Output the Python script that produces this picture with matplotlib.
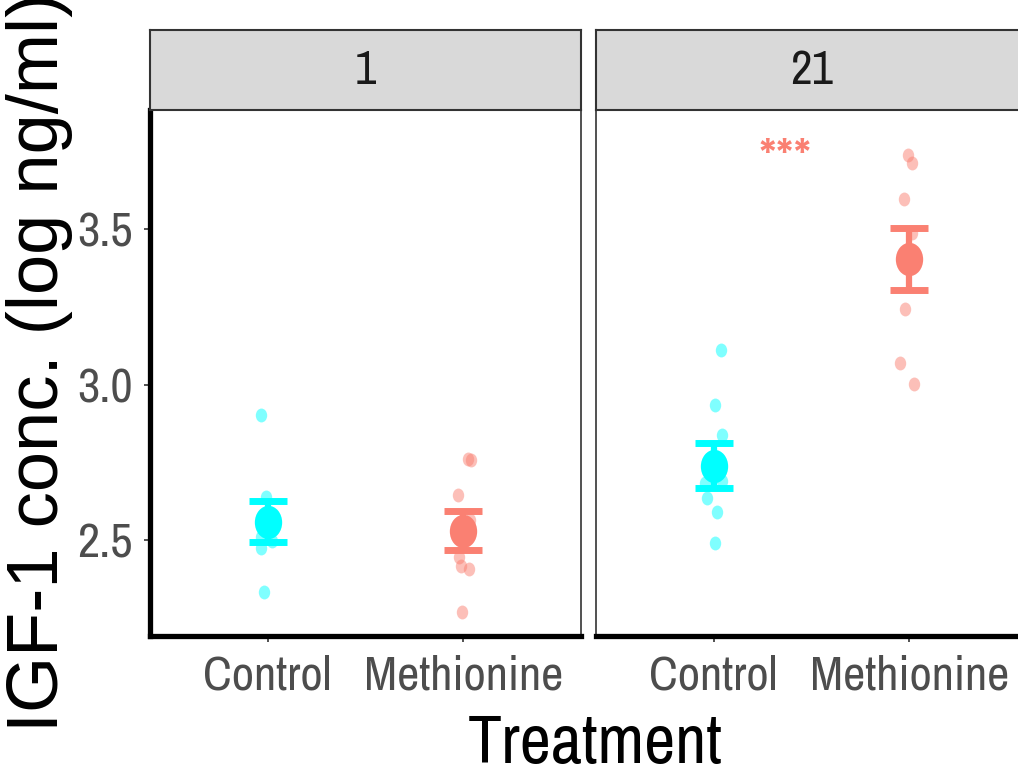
import matplotlib.pyplot as plt
from matplotlib.path import Path
from matplotlib.transforms import Affine2D

plt.rcParams['font.family'] = ['Archivo Narrow', 'Liberation Sans', 'DejaVu Sans']

days = ['1', '21']
treatments = ['Control', 'Methionine']
colors = ['#00FFFF', '#FA8072']

# individual samples (log ng/ml) with their horizontal jitter
d1_control = [2.901, 2.639, 2.511, 2.474, 2.495, 2.331]
d1_control_jit = [-0.033, -0.008, -0.033, -0.033, 0.021, -0.016]
d1_methionine = [2.759, 2.757, 2.645, 2.564, 2.446, 2.416, 2.407, 2.268]
d1_methionine_jit = [0.025, 0.037, -0.030, 0.033, -0.023, -0.013, 0.028, -0.008]
d21_control = [3.110, 2.933, 2.836, 2.682, 2.690, 2.636, 2.589, 2.491]
d21_control_jit = [0.037, 0.008, 0.042, -0.043, 0.042, -0.035, 0.019, 0.008]
d21_methionine = [3.738, 3.711, 3.596, 3.486, 3.243, 3.068, 3.002]
d21_methionine_jit = [-0.009, 0.011, -0.030, 0.011, -0.025, -0.048, 0.023]

# group means and standard errors
mean_d1 = [2.559, 2.530]
se_d1 = [0.067, 0.063]
mean_d21 = [2.739, 3.404]
se_d21 = [0.073, 0.100]

sig_label = '***'
sig_x = 1.365
sig_y = 3.672

samples = [[(d1_control, d1_control_jit), (d1_methionine, d1_methionine_jit)],
           [(d21_control, d21_control_jit), (d21_methionine, d21_methionine_jit)]]
means = [mean_d1, mean_d21]
ses = [se_d1, se_d21]

# slightly tall oval marker
oval = Path.unit_circle().transformed(Affine2D().scale(0.82, 1.0))

W, H = 1018, 772
fig = plt.figure(figsize=(W / 100, H / 100), dpi=100)

panel_left = [150, 596]
panel_w = 431
for i, day in enumerate(days):
    ax = fig.add_axes([panel_left[i] / W, 136 / H, panel_w / W, 526 / H])
    strip = fig.add_axes([panel_left[i] / W, 662 / H, panel_w / W, 80 / H])

    for j in range(2):
        vals, jit = samples[i][j]
        xs = [j + 1 + d for d in jit]
        ax.plot(xs, vals, ls='none', marker=oval, ms=10, color=colors[j],
                alpha=0.5, mec='none')
        ax.errorbar([j + 1], [means[i][j]], yerr=[ses[i][j]], fmt='none',
                    ecolor=colors[j], elinewidth=4.5, capsize=14, capthick=5)
        ax.plot([j + 1], [means[i][j]], ls='none', marker=oval, ms=24,
                color=colors[j], mec='none')

    ax.set_xlim(0.4, 2.6)
    ax.set_ylim(2.191, 3.883)
    ax.set_xticks([1, 2])
    ax.set_xticklabels(treatments)
    ax.set_yticks([2.5, 3.0, 3.5])
    ax.set_yticklabels(['2.5', '3.0', '3.5'])
    for s in ax.spines.values():
        s.set_color('#333333')
        s.set_linewidth(1.2)
    ax.spines['bottom'].set_color('black')
    ax.spines['bottom'].set_linewidth(3.8)
    ax.tick_params(axis='both', length=4.5, width=1.2, color='#333333',
                   labelsize=35, labelcolor='#4D4D4D')
    ax.tick_params(axis='x', pad=9)
    ax.tick_params(axis='y', pad=8)
    if i == 0:
        ax.spines['left'].set_color('black')
        ax.spines['left'].set_linewidth(3.8)
    else:
        ax.tick_params(axis='y', left=False, labelleft=False)
        ax.text(sig_x, sig_y, sig_label, color='#FA8072', fontsize=40,
                ha='center', va='baseline')

    strip.set_facecolor('#D9D9D9')
    strip.set_xticks([])
    strip.set_yticks([])
    for s in strip.spines.values():
        s.set_color('#333333')
        s.set_linewidth(1.5)
    strip.text(0.5, 0.5, day, transform=strip.transAxes, ha='center',
               va='center', fontsize=34, color='#1A1A1A')

fig.text(595 / W, 9 / H, 'Treatment', ha='center', va='baseline',
         fontsize=49, color='black')
fig.text(40 / W, 410 / H, 'IGF-1 conc. (log ng/ml)', rotation=90,
         ha='center', va='center', fontsize=52, color='black',
         family=['Liberation Sans', 'DejaVu Sans'])

fig.savefig('out.png', dpi=100)
